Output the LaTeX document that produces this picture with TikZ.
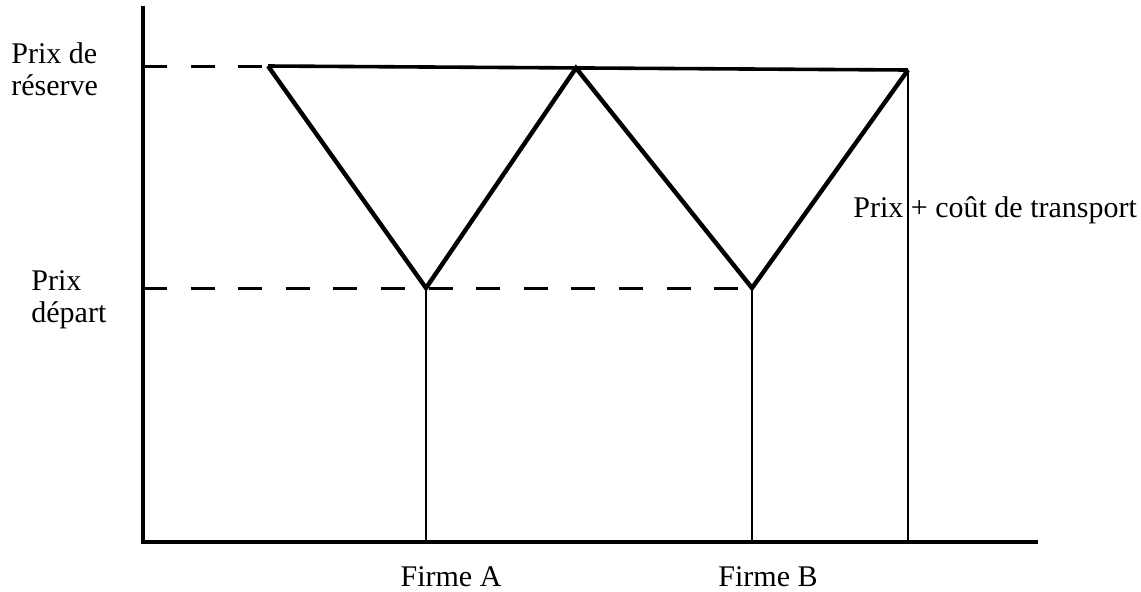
\documentclass[tikz,border=0pt]{standalone}
\usepackage{fontspec}
\setmainfont{Liberation Serif}
\usetikzlibrary{positioning, calc}

\begin{document}
\begin{tikzpicture}[
    x=0.5pt, y=-0.5pt,
    axisline/.style={line width=1.6pt, line cap=rect},
    priceline/.style={line width=2.2pt, line join=miter},
    topline/.style={line width=1.8pt},
    firmline/.style={line width=1.3pt},
    guide/.style={line width=1.5pt, dash pattern=on 12pt off 11.8pt},
    lbl/.style={font=\fontsize{15}{16}\selectfont, inner sep=0pt, align=left},
  ]
    \useasboundingbox (0,0) rectangle (1141,591);

    % axes
    \coordinate (origin) at (143,542);
    \coordinate (ytop) at (143,8);
    \coordinate (xend) at (1036,542);
    \draw[axisline] (ytop) -- (origin) -- (xend);

    % firms and price points
    \coordinate (resL) at (268,66);
    \coordinate (firmA) at (426,288);
    \coordinate (peak) at (576,68);
    \coordinate (firmB) at (752,288);
    \coordinate (resR) at (908,70);
    \coordinate (firmAbase) at (firmA |- origin);
    \coordinate (firmBbase) at (firmB |- origin);
    \coordinate (resRbase) at (resR |- origin);

    \draw[priceline] (resL) -- (firmA) -- (peak) -- (firmB) -- (resR);
    \draw[topline] (resL) -- (resR);
    \draw[firmline] (firmA) -- (firmAbase);
    \draw[firmline] (firmB) -- (firmBbase);
    \draw[firmline] (resR) -- (resRbase);

    % dashed guides
    \draw[guide] (origin |- resL) -- (resL);
    \draw[guide] (origin |- firmA) -- (firmB);

    % labels
    \node[lbl, anchor=west] (reserve) at (11,69) {Prix de\\réserve};
    \node[lbl, anchor=west] (depart) at (31,300) {Prix\\départ};
    \node[lbl, anchor=west] (transport) at (853,210) {Prix + coût de transport};
    \node[lbl] (labelA) at (451,577) {Firme A};
    \node[lbl] (labelB) at (768,577) {Firme B};
\end{tikzpicture}
\end{document}
